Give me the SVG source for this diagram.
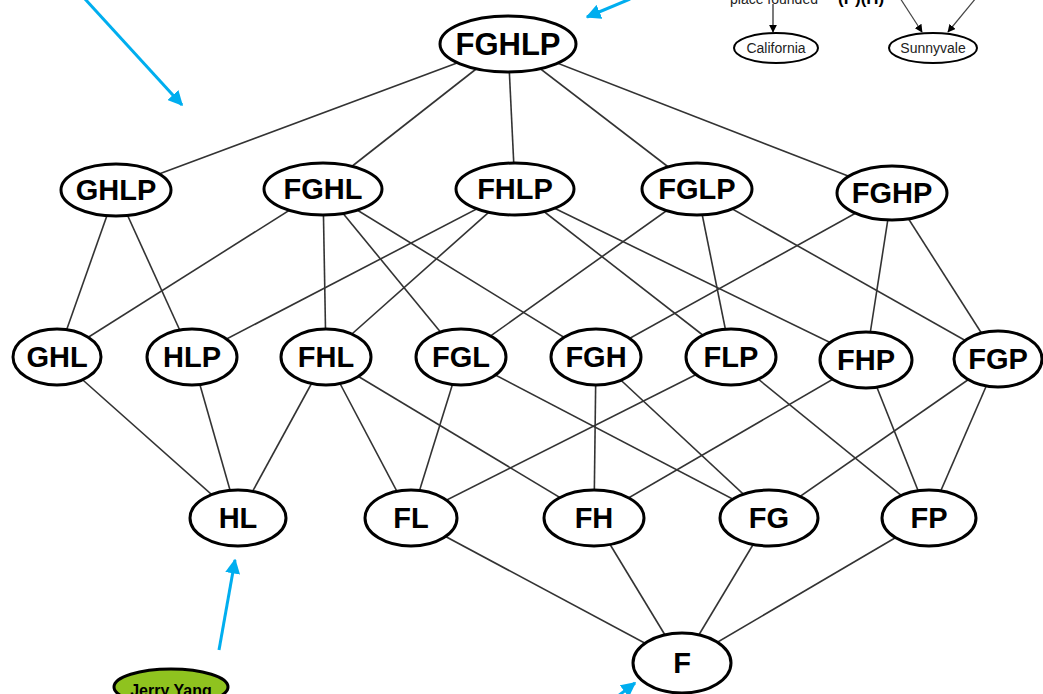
<svg xmlns="http://www.w3.org/2000/svg" width="1043" height="694" viewBox="0 0 1043 694">
<defs>
<style>
.n ellipse{fill:#fff;stroke:#000;stroke-width:3}
.n text{font-family:"Liberation Sans",Arial,sans-serif;font-weight:bold;font-size:29px;text-anchor:middle;fill:#000}
.e line{stroke:#333;stroke-width:1.6}
.b{stroke:#00aeef;stroke-width:3;fill:none}
.s ellipse{fill:#fff;stroke:#000;stroke-width:2}
.s text{font-family:"Liberation Sans",Arial,sans-serif;font-size:14px;text-anchor:middle;fill:#222}
</style>
<marker id="ab" viewBox="0 0 10 10" refX="9" refY="5" markerWidth="5" markerHeight="5" orient="auto" markerUnits="strokeWidth">
<path d="M0,0 L10,5 L0,10 z" fill="#00aeef"/>
</marker>
<marker id="ak" viewBox="0 0 10 10" refX="9" refY="5" markerWidth="8" markerHeight="8" orient="auto" markerUnits="userSpaceOnUse">
<path d="M0,0 L10,5 L0,10 z" fill="#000"/>
</marker>
</defs>
<rect width="1043" height="694" fill="#fff"/>
<g id="connectors" class="e">
<line x1="508" y1="44" x2="116" y2="190"/>
<line x1="508" y1="44" x2="323" y2="189"/>
<line x1="508" y1="44" x2="515" y2="189"/>
<line x1="508" y1="44" x2="697" y2="189"/>
<line x1="508" y1="44" x2="892" y2="193"/>
<line x1="116" y1="190" x2="57" y2="357"/>
<line x1="116" y1="190" x2="192" y2="357"/>
<line x1="323" y1="189" x2="57" y2="357"/>
<line x1="323" y1="189" x2="326" y2="357"/>
<line x1="323" y1="189" x2="461" y2="357"/>
<line x1="323" y1="189" x2="596" y2="357"/>
<line x1="515" y1="189" x2="192" y2="357"/>
<line x1="515" y1="189" x2="326" y2="357"/>
<line x1="515" y1="189" x2="731" y2="357"/>
<line x1="515" y1="189" x2="866" y2="360"/>
<line x1="697" y1="189" x2="461" y2="357"/>
<line x1="697" y1="189" x2="731" y2="357"/>
<line x1="697" y1="189" x2="998" y2="359"/>
<line x1="892" y1="193" x2="596" y2="357"/>
<line x1="892" y1="193" x2="866" y2="360"/>
<line x1="892" y1="193" x2="998" y2="359"/>
<line x1="57" y1="357" x2="238" y2="518"/>
<line x1="192" y1="357" x2="238" y2="518"/>
<line x1="326" y1="357" x2="238" y2="518"/>
<line x1="326" y1="357" x2="411" y2="518"/>
<line x1="326" y1="357" x2="594" y2="518"/>
<line x1="461" y1="357" x2="411" y2="518"/>
<line x1="461" y1="357" x2="769" y2="518"/>
<line x1="596" y1="357" x2="594" y2="518"/>
<line x1="596" y1="357" x2="769" y2="518"/>
<line x1="731" y1="357" x2="411" y2="518"/>
<line x1="731" y1="357" x2="929" y2="518"/>
<line x1="866" y1="360" x2="594" y2="518"/>
<line x1="866" y1="360" x2="929" y2="518"/>
<line x1="998" y1="359" x2="769" y2="518"/>
<line x1="998" y1="359" x2="929" y2="518"/>
<line x1="411" y1="518" x2="682" y2="663"/>
<line x1="594" y1="518" x2="682" y2="663"/>
<line x1="769" y1="518" x2="682" y2="663"/>
<line x1="929" y1="518" x2="682" y2="663"/>
</g>
<g id="n-FGHLP" class="n"><ellipse cx="508" cy="44" rx="68" ry="28"/><text x="508" y="55" style="font-size:31px">FGHLP</text></g>
<g id="n-GHLP" class="n"><ellipse cx="116" cy="190" rx="55" ry="26"/><text x="116" y="200">GHLP</text></g>
<g id="n-FGHL" class="n"><ellipse cx="323" cy="189" rx="59" ry="26"/><text x="323" y="199">FGHL</text></g>
<g id="n-FHLP" class="n"><ellipse cx="515" cy="189" rx="59" ry="26"/><text x="515" y="199">FHLP</text></g>
<g id="n-FGLP" class="n"><ellipse cx="697" cy="189" rx="55" ry="26"/><text x="697" y="199">FGLP</text></g>
<g id="n-FGHP" class="n"><ellipse cx="892" cy="193" rx="55" ry="27"/><text x="892" y="203">FGHP</text></g>
<g id="n-GHL" class="n"><ellipse cx="57" cy="357" rx="44" ry="28"/><text x="57" y="367">GHL</text></g>
<g id="n-HLP" class="n"><ellipse cx="192" cy="357" rx="45" ry="28"/><text x="192" y="367">HLP</text></g>
<g id="n-FHL" class="n"><ellipse cx="326" cy="357" rx="45" ry="28"/><text x="326" y="367">FHL</text></g>
<g id="n-FGL" class="n"><ellipse cx="461" cy="357" rx="45" ry="28"/><text x="461" y="367">FGL</text></g>
<g id="n-FGH" class="n"><ellipse cx="596" cy="357" rx="45" ry="28"/><text x="596" y="367">FGH</text></g>
<g id="n-FLP" class="n"><ellipse cx="731" cy="357" rx="45" ry="28"/><text x="731" y="367">FLP</text></g>
<g id="n-FHP" class="n"><ellipse cx="866" cy="360" rx="46" ry="28"/><text x="866" y="370">FHP</text></g>
<g id="n-FGP" class="n"><ellipse cx="998" cy="359" rx="44" ry="28"/><text x="998" y="369">FGP</text></g>
<g id="n-HL" class="n"><ellipse cx="238" cy="518" rx="48" ry="28"/><text x="238" y="528">HL</text></g>
<g id="n-FL" class="n"><ellipse cx="411" cy="518" rx="46" ry="28"/><text x="411" y="528">FL</text></g>
<g id="n-FH" class="n"><ellipse cx="594" cy="518" rx="50" ry="28"/><text x="594" y="528">FH</text></g>
<g id="n-FG" class="n"><ellipse cx="769" cy="518" rx="49" ry="28"/><text x="769" y="528">FG</text></g>
<g id="n-FP" class="n"><ellipse cx="929" cy="518" rx="47" ry="28"/><text x="929" y="528">FP</text></g>
<g id="n-F" class="n"><ellipse cx="682" cy="663" rx="49" ry="30"/><text x="682" y="673">F</text></g>
<g id="n-JerryYang"><ellipse cx="171" cy="687" rx="57" ry="18" fill="#8fc31f" stroke="#000" stroke-width="3"/><text x="171" y="696" font-family="Liberation Sans, Arial, sans-serif" font-weight="bold" font-size="16" text-anchor="middle">Jerry Yang</text></g>
<g id="n-California" class="s"><ellipse cx="776" cy="48" rx="42" ry="15"/><text x="776" y="53">California</text></g>
<g id="n-Sunnyvale" class="s"><ellipse cx="933" cy="48" rx="44" ry="15"/><text x="933" y="53">Sunnyvale</text></g>
<g id="top-links">
<text x="730" y="4" font-family="Liberation Sans, Arial, sans-serif" font-size="14" fill="#222">place founded</text>
<text x="838" y="4" font-family="Liberation Sans, Arial, sans-serif" font-size="17" font-weight="bold" fill="#000">(P)(H)</text>
<line x1="773" y1="4" x2="773" y2="32" stroke="#222" stroke-width="1.2" marker-end="url(#ak)"/>
<line x1="900" y1="-2" x2="922" y2="32" stroke="#444" stroke-width="1.2" marker-end="url(#ak)"/>
<line x1="976" y1="-2" x2="948" y2="32" stroke="#444" stroke-width="1.2" marker-end="url(#ak)"/>
</g>
<g id="blue-arrows">
<line class="b" x1="85" y1="-1" x2="182" y2="105" marker-end="url(#ab)"/>
<line class="b" x1="630" y1="-1" x2="587" y2="17" marker-end="url(#ab)"/>
<line class="b" x1="219" y1="650" x2="235" y2="560" marker-end="url(#ab)"/>
<line class="b" x1="618" y1="696" x2="635" y2="683" marker-end="url(#ab)"/>
</g>
</svg>
